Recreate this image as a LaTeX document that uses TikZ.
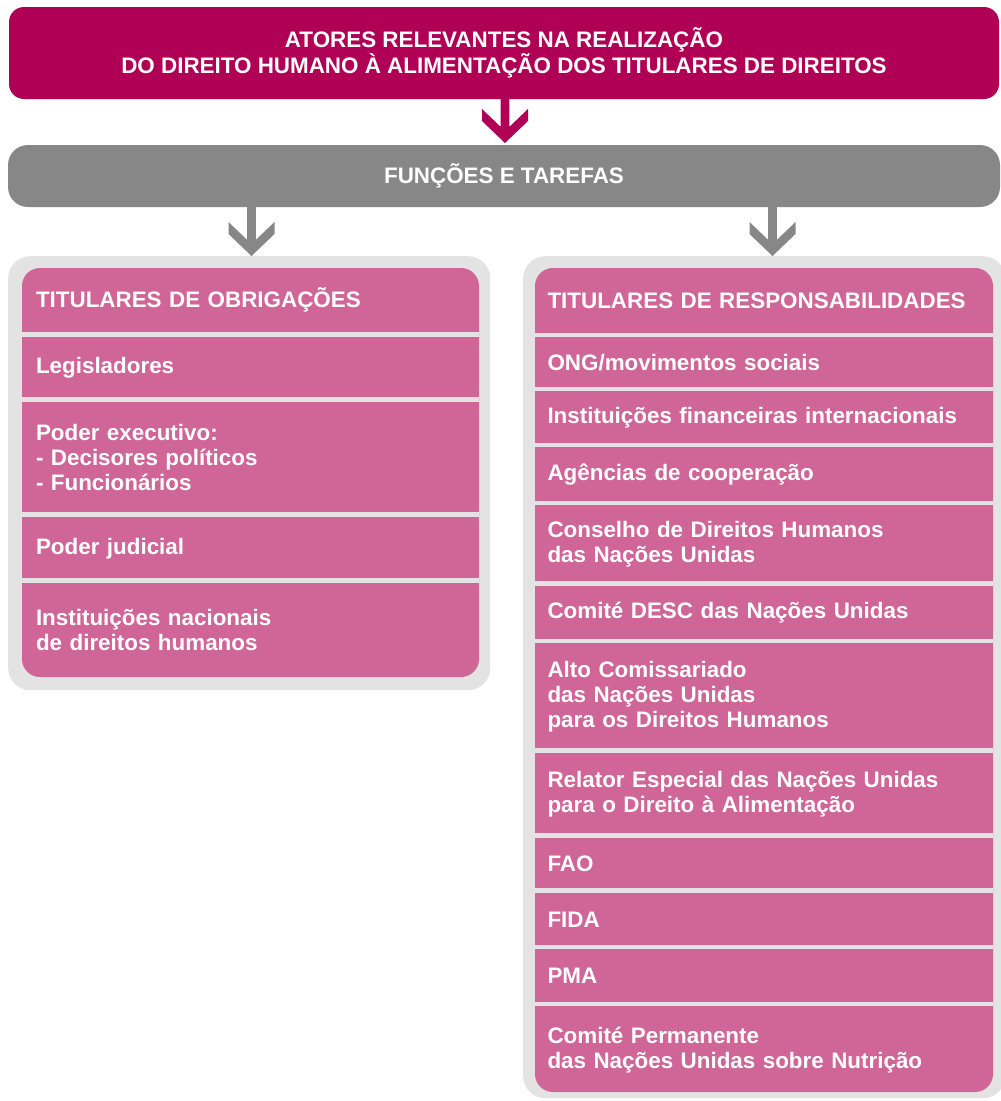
\documentclass[tikz,border=0pt]{standalone}
\usepackage{fontspec}
\setmainfont{Liberation Sans}
\usetikzlibrary{calc}

\definecolor{crimson}{HTML}{B00055}
\definecolor{bandgrey}{HTML}{878787}
\definecolor{framegrey}{HTML}{E3E3E3}
\definecolor{rowpink}{HTML}{D06598}
\definecolor{rowgap}{HTML}{E4E2E3}

% fixed line height and depth, so every label sits centred on its capitals
\newcommand\capstrut{\rule[-2.5pt]{0pt}{21pt}}

% Chevron-headed connector: #1 colour, #2 start point, #3 tip point
\newcommand\drawchevron[3]{%
  \fill[#1] let \p1=(#2), \p2=(#3) in
    (\x2-4.3pt,\y1) -- (\x2-4.3pt,\y2+16.1pt) -- (\x2-23pt,\y2+34pt) -- (\x2-23pt,\y2+22pt)
    -- (\x2,\y2) -- (\x2+23pt,\y2+22pt) -- (\x2+23pt,\y2+34pt) -- (\x2+4.3pt,\y2+16.1pt)
    -- (\x2+4.3pt,\y1) -- cycle;}

\tikzset{
  label font/.style={font=\bfseries\fontsize{22.4}{25}\selectfont, text=white,
    execute at begin node=\capstrut, execute at end node=\capstrut},
  frame/.style={fill=framegrey, rounded corners=22pt, anchor=north west, inner sep=0pt,
    minimum width=482pt},
  lrow/.style={label font, anchor=north west, inner ysep=0pt, inner xsep=14pt, outer sep=0pt,
    text width=429pt, align=left},
  rrow/.style={label font, anchor=north west, inner ysep=0pt, inner xsep=12.5pt, outer sep=0pt,
    text width=433pt, align=left},
}

\begin{document}
\begin{tikzpicture}[x=1pt,y=-1pt]
\useasboundingbox (0,0) rectangle (1001,1101);
\clip (0,0) rectangle (1001,1101);

% headings
\node[fill=crimson, rounded corners=15pt, minimum width=990pt, minimum height=92pt,
  align=center, inner sep=0pt, label font, font=\bfseries\fontsize{22.4}{23.5}\selectfont]
  (banner) at (504,53)
  {ATORES RELEVANTES NA REALIZAÇÃO\\DO DIREITO HUMANO À ALIMENTAÇÃO DOS TITULARES DE DIREITOS};
\node[fill=bandgrey, rounded corners=20pt, minimum width=992pt, minimum height=62pt,
  inner sep=0pt, label font] (band) at (504,176) {FUNÇÕES E TAREFAS};

% frames
\node[frame, minimum height=434pt] (lframe) at (8,256) {};
\node[frame, minimum height=842pt] (rframe) at (523,256) {};

% pink panels
\fill[rowpink, rounded corners=18pt] (22,268) rectangle (479,677);
\fill[rowpink, rounded corners=18pt] (535,268) rectangle (993,1092);

% left column
\node[lrow, minimum height=64pt]  (l1) at (22,268) {TITULARES DE OBRIGAÇÕES};
\node[lrow, minimum height=60pt]  (l2) at (22,337) {Legisladores};
\node[lrow, minimum height=110pt] (l3) at (22,402) {Poder executivo:\\- Decisores políticos\\- Funcionários};
\node[lrow, minimum height=61pt]  (l4) at (22,517) {Poder judicial};
\node[lrow, minimum height=94pt]  (l5) at (22,583) {Instituições nacionais\\de direitos humanos};

% right column
\node[rrow, minimum height=65pt]    (r1)  at (535,268)   {TITULARES DE RESPONSABILIDADES};
\node[rrow, minimum height=50pt]    (r2)  at (535,337)   {ONG/movimentos sociais};
\node[rrow, minimum height=52pt]    (r3)  at (535,391)   {Instituições financeiras internacionais};
\node[rrow, minimum height=54pt]    (r4)  at (535,447)   {Agências de cooperação};
\node[rrow, minimum height=76pt]    (r5)  at (535,505)   {Conselho de Direitos Humanos\\das Nações Unidas};
\node[rrow, minimum height=53pt]    (r6)  at (535,585.5) {Comité DESC das Nações Unidas};
\node[rrow, minimum height=105.5pt] (r7)  at (535,642.5) {Alto Comissariado\\das Nações Unidas\\para os Direitos Humanos};
\node[rrow, minimum height=80pt]    (r8)  at (535,753)   {Relator Especial das Nações Unidas\\para o Direito à Alimentação};
\node[rrow, minimum height=50pt]    (r9)  at (535,838)   {FAO};
\node[rrow, minimum height=52pt]    (r10) at (535,893)   {FIDA};
\node[rrow, minimum height=53pt]    (r11) at (535,949)   {PMA};
\node[rrow, minimum height=86pt]    (r12) at (535,1006)  {Comité Permanente\\das Nações Unidas sobre Nutrição};

% gaps between rows
\foreach \a/\b in {l1/l2,l2/l3,l3/l4,l4/l5,
                   r1/r2,r2/r3,r3/r4,r4/r5,r5/r6,r6/r7,r7/r8,r8/r9,r9/r10,r10/r11,r11/r12}
  \fill[rowgap] (\a.south west) rectangle (\b.north east);

% connectors
\coordinate (tip0) at (505,143);
\coordinate (tip1) at (251.5,256);
\coordinate (tip2) at (772.5,256);
\drawchevron{crimson}{banner.south -| tip0}{tip0}
\drawchevron{bandgrey}{band.south -| tip1}{tip1}
\drawchevron{bandgrey}{band.south -| tip2}{tip2}
\end{tikzpicture}
\end{document}
